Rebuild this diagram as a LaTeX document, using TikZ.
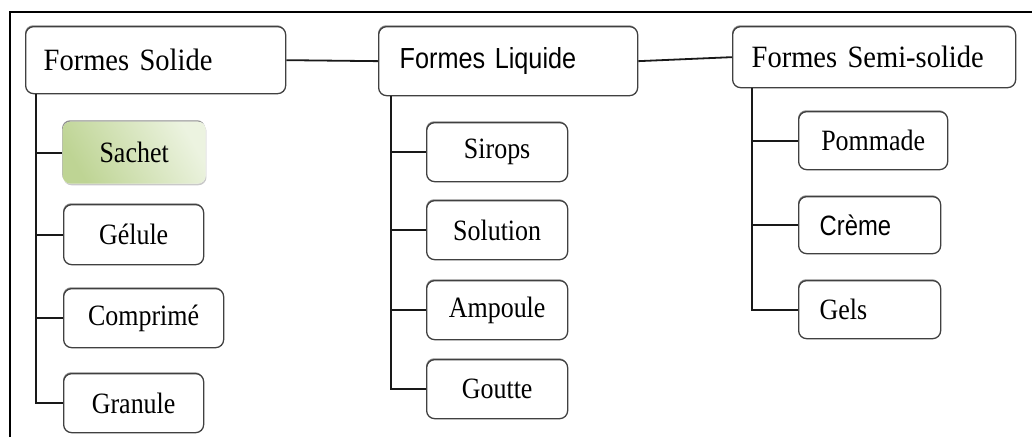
\documentclass[tikz,border=0pt]{standalone}
\usepackage{fontspec}
\setmainfont{Liberation Serif}
\newfontfamily\hserif[FakeStretch=0.92]{Liberation Serif}
\newfontfamily\kserif[FakeStretch=0.88]{Liberation Serif}
\newfontfamily\hsans[FakeStretch=0.87]{Liberation Sans}
\newfontfamily\ksans[FakeStretch=0.85]{Liberation Sans}
\usetikzlibrary{shadows}
\definecolor{sachetA}{RGB}{190,212,148}
\definecolor{sachetB}{RGB}{236,243,224}
\begin{document}
\begin{tikzpicture}[x=1pt,y=-1pt,
  box/.style={draw=black!75, line width=1.3pt, rounded corners=8pt, fill=white,
    anchor=north west, inner ysep=0pt,
    drop shadow={shadow xshift=-0.6pt, shadow yshift=1.4pt, fill=black!55, opacity=0.8}},
  hdr/.style={box, font=\hserif\fontsize{31}{33}\selectfont, align=left},
  kid/.style={box, font=\kserif\fontsize{29.5}{31}\selectfont, align=center, inner xsep=0pt},
  kidl/.style={box, font=\kserif\fontsize{29.5}{31}\selectfont, align=left},
  link/.style={draw=black!90, line width=1.8pt}]
\useasboundingbox (0,0) rectangle (1032,437);
\fill[white] (0,0) rectangle (1032,437);
% frame
\draw[line width=2.2pt] (10,437) -- (10,12) -- (1032,12);

% headers
\node[hdr, inner xsep=18pt, text width=224pt, minimum height=67pt] (S) at (25,26) {Formes Solide};
\node[hdr, inner xsep=21pt, text width=217pt, minimum height=69pt, font=\hsans\fontsize{29}{31}\selectfont] (L) at (378,26) {Formes Liquide};
\node[hdr, inner xsep=19pt, text width=245pt, minimum height=61pt] (M) at (732,26) {Formes Semi-solide};

% solid children
\node[kid, draw=none, minimum width=143pt, minimum height=62pt,
  left color=sachetA, right color=sachetB, shading angle=120,
  drop shadow={shadow xshift=0.8pt, shadow yshift=-1.6pt, fill=black!35, opacity=0.6}] (Sach) at (62,121) {Sachet};
\node[kid, minimum width=140pt, minimum height=60pt] (Gel) at (63,204) {Gélule};
\node[kid, minimum width=160pt, minimum height=59pt] (Comp) at (63,288) {Comprimé};
\node[kid, minimum width=140pt, minimum height=59pt] (Gran) at (63,373) {Granule};

% liquid children
\node[kid, minimum width=141pt, minimum height=59pt] (Sir) at (426,122) {Sirops};
\node[kid, minimum width=141pt, minimum height=59pt] (Sol) at (426,200) {Solution};
\node[kid, minimum width=141pt, minimum height=59pt] (Amp) at (426,280) {Ampoule};
\node[kid, minimum width=141pt, minimum height=59pt] (Gou) at (426,359) {Goutte};

% semi-solid children
\node[kid, minimum width=149pt, minimum height=58pt] (Pom) at (798,111) {Pommade};
\node[kidl, inner xsep=21pt, text width=100pt, minimum height=57pt, font=\ksans\fontsize{28}{30}\selectfont] (Cre) at (798,196) {Crème};
\node[kidl, inner xsep=21pt, text width=100pt, minimum height=58pt] (Gels) at (798,280) {Gels};

% connectors between headers
\draw[link] (S.east) -- (L.west);
\draw[link] (L.east) -- (M.west);

% trunks
\foreach \c in {Sach,Gel,Comp,Gran}
  \draw[link] ([xshift=11pt]S.south west) |- (\c.west);
\foreach \c in {Sir,Sol,Amp,Gou}
  \draw[link] ([xshift=13pt]L.south west) |- (\c.west);
\foreach \c in {Pom,Cre,Gels}
  \draw[link] ([xshift=20pt]M.south west) |- (\c.west);
\end{tikzpicture}
\end{document}
